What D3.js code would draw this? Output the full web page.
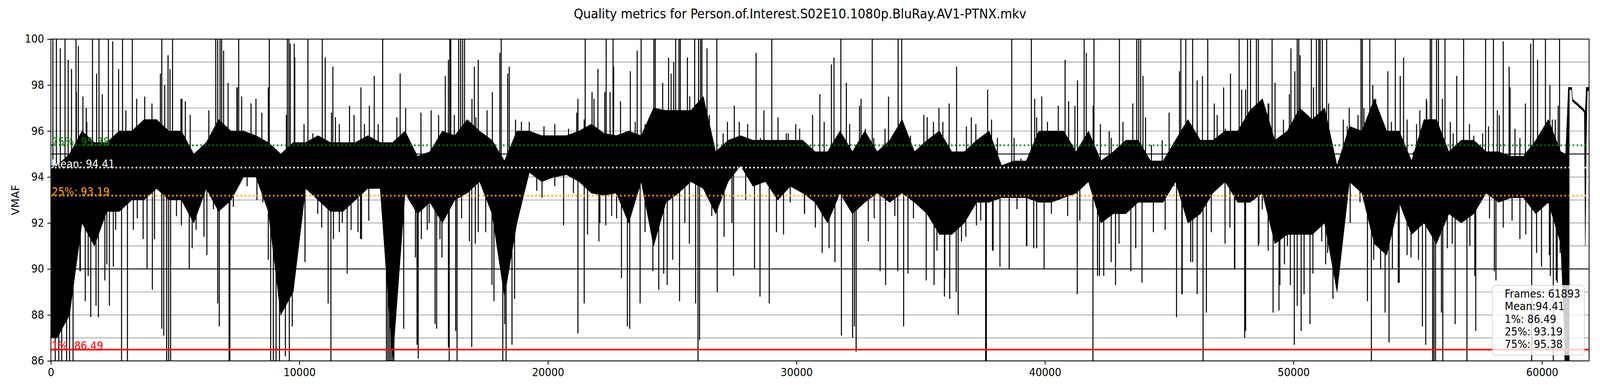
<!DOCTYPE html>
<html><head><meta charset="utf-8">
<script src="https://cdn.jsdelivr.net/npm/d3@7"></script>
<style>html,body{margin:0;padding:0;background:#fff;overflow:hidden;} svg{display:block;font-family:"DejaVu Sans",sans-serif;width:100vw;height:100vh;}</style>
</head><body><div id="chart"></div>
<script>
// ---------------- data ----------------
const chartTitle = "Quality metrics for Person.of.Interest.S02E10.1080p.BluRay.AV1-PTNX.mkv";
const yLabel = "VMAF";
const frameCount = 61893;
const xTicks = [0, 10000, 20000, 30000, 40000, 50000, 60000];
const yTicks = [86, 88, 90, 92, 94, 96, 98, 100];
const minorGrid = [87, 88, 89, 91, 92, 93, 94, 96, 97, 98, 99];
const majorGrid = [90, 95];

const statNames  = ["1%", "25%", "Mean", "75%"];
const statValues = [86.49, 93.19, 94.41, 95.38];
const statColors = ["#ff0000", "#ffa500", "#ffffff", "#008000"];

// dense core of the VMAF trace (per 500-frame bin: upper / lower edge of the solid black region)
const bandFrames = [0,
 250,750,1250,1750,2250,2750,3250,3750,4250,4750,
 5250,5750,6250,6750,7250,7750,8250,8750,9250,9750,
 10250,10750,11250,11750,12250,12750,13250,13750,14250,14750,
 15250,15750,16250,16750,17250,17750,18250,18750,19250,19750,
 20250,20750,21250,21750,22250,22750,23250,23750,24250,24750,
 25250,25750,26250,26750,27250,27750,28250,28750,29250,29750,
 30250,30750,31250,31750,32250,32750,33250,33750,34250,34750,
 35250,35750,36250,36750,37250,37750,38250,38750,39250,39750,
 40250,40750,41250,41750,42250,42750,43250,43750,44250,44750,
 45250,45750,46250,46750,47250,47750,48250,48750,49250,49750,
 50250,50750,51250,51750,52250,52750,53250,53750,54250,54750,
 55250,55750,56250,56750,57250,57750,58250,58750,59250,59750,
 60250,60750,
 60950,61060,61100,61190,61220,61320,61440,61520,61640,61700,61740,61780,61820,61892];
const bandHi = [94.5,
 94.5,95,96,95.5,95.5,96,96,96.5,96.5,96,
 96,95,95.5,96.5,96,96,95.8,95.5,95,95.5,
 95.5,95.8,95.5,95.5,95.5,95.8,95.5,95.5,96,94.9,
 95.1,96,95.8,96.5,96,95.6,94.7,96,96,95.8,
 95.8,95.8,96,96.3,95.9,95.8,96,95.8,97,96.9,
 96.9,96.9,97.5,95.1,95.6,95.8,95.6,95.6,95.6,95.6,
 95.6,95.1,95.1,96,95.1,96,95.1,95.6,96.5,95.1,
 95.6,96,95.1,95.1,95.6,96,94.5,94.7,94.7,96,
 96,96,95.1,96,94.7,95.1,95.6,95.6,94.7,94.7,
 95.6,96.5,95.6,95.6,96,96,96.9,97.4,95.6,96,
 97,96.5,97,94.5,96.2,96,97.4,96,96,94.7,
 96.5,96.5,95.1,95.6,95.6,95.1,95.1,94.9,94.9,95.6,
 96.5,95.1,
 95,97.9,97.9,97.9,97.4,97.3,97.2,97.1,97.0,96.9,96.9,97.9,97.9,97.9];
const bandLo = [87,
 87,88,92,91,92.5,92.5,93,93,93.5,93,
 93,92,93.5,92.5,93,94,94,92.5,88,89,
 93.5,93,92.5,92.5,93,93.5,93.5,86,93.3,92.4,
 92.9,92,93,93.3,93.8,92.4,88.8,92,94.2,93.8,
 94,94.1,93.8,93.3,93.2,93.3,92,93.8,91,92.9,
 93.3,93.8,93.5,92.4,93.8,94.5,93.6,93.8,93,93.6,
 93.3,92.9,92,93.3,92.4,92.9,93.3,92.9,93.3,92.9,
 92.4,91.5,91.5,92,92.9,92.9,93.1,93.1,93.1,92.9,
 92.9,93.1,93.3,93.8,92,92.4,92.4,92.9,92.9,92.9,
 93.8,92,92.4,93.3,93.8,92.9,92.9,93.3,91.1,91.5,
 91.5,91.5,92,89,93.8,93.3,91.1,90.6,92.9,91.5,
 92,91.1,92.4,92,92.4,93.3,92.9,93.1,93.1,92.4,
 92.9,91.1,
 86,86,97.8,97.8,97.3,97.2,97.1,97.0,96.9,96.8,91,95.5,97.8,97.7];

// large excursions of the trace (frame, VMAF)
const spikeFrames = [
 79,221,568,1010,1674,1934,2313,2882,3276,4461,4895,6632,6711,6805,6869,7556,8787,9514,9577,10342,10919,
 695,1105,2487,2724,4713,4792,6948,7129,7500,8748,9632,9790,11037,11345,12016,2069,1421,5274,9474,
 174,316,434,632,750,892,1168,1382,1603,1911,2353,2511,2842,3079,3711,3869,4082,4461,4540,4658,4737,4816,5566,6276,6711,6774,7169,7200,8290,8748,8842,8950,9060,9197,9435,9592,9711,10224,10737,11155,11266,11921,12079,
 13350,16050,16090,16405,16484,16563,16642,18119,21498,22342,22619,23748,24261,24316,
 12474,13011,14053,14890,15869,15995,16232,17037,17195,17763,18063,18442,21206,21774,22011,22500,22643,23314,23590,24616,
 12458,12790,13429,13500,13560,13620,13680,13740,13800,13879,14195,14669,14732,14779,15458,15521,15734,15995,16026,16287,16342,16934,17077,17495,17827,18182,18261,18316,18553,18656,19548,20629,21206,21458,21592,22050,22958,23196,23290,23708,24221,24458,24656,
 25137,25271,25326,25903,26061,26140,26195,26795,29006,31785,33048,34090,34232,
 24853,25058,25611,26400,27498,28374,28690,30940,31405,31508,32006,32598,33703,35124,35732,36142,36442,37035,30648,29969,
 24797,25019,25295,25942,26037,26100,26811,27466,28311,28532,28903,29479,30324,31034,31548,31808,32258,32400,32330,33585,33364,34074,34311,34485,35219,35535,35953,36166,36506,36427,
 38661,39450,41574,41969,42995,43690,43769,43848,45466,45664,45940,46548,47811,48150,48268,48505,48584,49137,
 37690,39584,39869,40808,41306,41661,41937,43532,43942,44993,45411,46335,47187,47463,47913,49256,49003,
 37611,37640,37240,37911,38187,38558,39269,39545,39964,41298,41929,42111,42363,42837,43453,43903,45292,45521,45861,46122,46359,46493,47243,47622,48032,48072,48608,48979,49177,49414,49453,
 50148,50211,50716,50921,51016,51071,51158,51332,52713,52769,53069,54095,55500,55556,55753,55832,56093,56843,57727,58043,59645,60135,60703,
 49895,50053,50266,50503,50803,51411,52240,52595,53187,53795,54293,54427,54948,55343,55990,56566,57079,58200,58437,58674,59329,59543,59819,60316,60530,58714,
 49634,49871,50029,50306,50661,50779,51292,51585,52974,53132,53684,53842,54214,55185,55319,55595,55650,55713,56006,56503,56977,57332,58145,59108,59582,60332,60450,60609,60924,60980,61040,61082];
const spikeValues = [
 100,100,100,100,100,100,100,100,100,100,100,100,100,100,100,100,100,100,100,100,100,
 99.1,99.7,99.9,98.7,99.3,98.7,99.5,98.1,97.9,97.9,99.8,99.8,99.2,98.8,97.1,97.6,97,97.4,96.7,
 86,86,86,86,86,86,89.9,88.6,87.9,87.9,88.4,90.1,86,86,91.3,90,89.1,87.4,87.1,86,86,86,90,90.6,88.5,87.5,86,86,93,90.4,86,86,86,86,86.2,86,87.5,90.3,92.4,88.5,86,89.8,91.7,
 100,100,100,100,100,100,100,100,100,100,100,100,100,100,
 97.9,98.4,98.5,96.8,98.4,99.1,96.7,98.8,99.1,97.7,99.4,98.8,97.4,97.7,98.7,97.7,98.8,98.6,99.5,98.1,
 91.3,92.1,91.4,86,86,86,86,86,86,90.5,87.4,90.5,86.7,86.1,87.6,87.4,90.5,86.6,86,87.3,86,86.6,91.1,91.6,88.6,86,87.6,86,86.7,88.7,93.4,91.9,87.2,88.5,91.5,91.2,89.6,87.5,87.4,88.5,89.9,89.1,89.8,
 100,100,100,100,100,100,100,100,100,100,100,100,100,
 99.2,99,99.2,99.6,97.1,99.4,96.9,97.6,98.9,99.2,98.1,97.4,97.5,96.7,97,97.2,98.8,96.6,96.7,96.3,
 89.3,90.4,88.6,88.5,86,86.9,89,89.7,90,88.8,88.5,91.5,92.4,90.7,90.3,87.1,87,86.4,87.5,89.3,89.9,89.9,87.5,89.8,89.5,89.3,88.8,88.7,88,89,
 100,100,100,100,100,100,100,100,100,100,100,100,100,100,100,100,100,100,
 97.8,97.4,97.5,99.1,98.2,99.4,97.1,97.2,98.4,96.8,98.6,98.4,97.9,98.5,97.8,98.1,97.2,
 86,86,91.9,90.8,90.1,90,91,90.9,90,88.9,86,89.7,89.7,89.3,89.9,89.4,87.9,88.9,90.3,88.9,86,88.1,91.1,90,87,87.3,91.1,90.8,88.1,88.2,89.3,
 100,100,100,100,100,100,100,100,100,100,100,100,100,100,100,100,100,100,100,100,100,100,100,
 99.6,98.6,99.3,96.4,97.9,97.2,97,96.7,98,98.6,98.4,99.2,96.3,97.4,97.4,98.4,96.3,96.9,99.9,98.8,97.2,99.8,99.1,98,96.5,97.9,
 90.2,89.3,86.7,87.3,87.6,89.8,90.2,88.7,88.6,86,88.1,86.8,89.4,87.5,86.7,86,86,86,86,87.6,86,87.3,89.5,91.3,86,89.7,86,89.4,86,86,86,86];

// smaller excursions just outside the dense core [frame, VMAF]
const fringeSpikes = [
 [379,99.6],[829,98.7],[1026,97.7],[1287,97.5],[1445,96.4],[1840,98.5],[3016,96.9],[3450,97.4],[3774,97.5],[4066,97.2],[4405,98.5],[4579,98],[5234,97.4],[5408,97.3],[5605,96.7],[6355,96.9],[7484,97.9],[7674,97.5],[8053,97.2],[8250,97.4],[8487,96.8],[9813,99.2],[10185,96.3],[10540,95.9],[11290,96.8],[11448,96.6],[11606,96.3],[12198,96.7],
 [1184,89.9],[1500,89.7],[1816,88.4],[2171,89.5],[2250,90.2],[2605,91.7],[3316,91.7],[3474,92.2],[4168,91.3],[5053,92.3],[5250,91.9],[5684,90.9],[5842,91.7],[6158,91.4],[6537,92.6],[7342,92.7],[7895,93.6],[8527,92.9],[10895,91.8],[11369,91.3],[11606,91.6],[11724,92],[12356,91.6],
 [12616,96.3],[12813,97.1],[13169,96.3],[13919,96.6],[14274,97],[14511,95.2],[15300,96.9],[15600,96.7],[16942,97.4],[17100,96.6],[17550,96.9],[18379,98.5],[18695,96.5],[18932,96.4],[19248,96.4],[19840,96.2],[20274,96.3],[20827,96.1],[21158,96.8],[21458,96.5],[21853,97.4],[22287,97.7],[22919,97.3],[23511,96.4],[23906,96.3],[24063,96.5],
 [12497,91.3],[12971,93.8],[13169,93.8],[14037,91.5],[14432,93.3],[14906,91.3],[15142,91.7],[15221,92],[15655,91.3],[16524,92.2],[16840,91.2],[17195,91.6],[17747,89.3],[19130,93.9],[19761,93.1],[20274,93.6],[21025,93.3],[22090,92],[22327,91.9],[22563,92.3],[22761,92.2],[23906,91.6],
 [24955,98.5],[25429,96.6],[25705,97.5],[26495,96.7],[27048,95.9],[27221,96.4],[27695,96.4],[28034,96.3],[28548,95.7],[29258,96.6],[29590,95.9],[29669,95.9],[30127,96.1],[31114,96.4],[32140,96.3],[32535,97.1],[32771,96.1],[33111,95.7],[33561,96.1],[34587,95.8],[35259,96.6],[35511,96.4],[35890,96.4],[36837,96.2],
 [25508,92],[25690,91.1],[26590,92.3],[27087,91.4],[27403,92],[27956,93],[29195,91.6],[29748,92.9],[30324,92.4],[30758,91.8],[31311,90.9],[32890,91.2],[33127,92.2],[33956,92.3],[34706,92.2],[35653,90.8],[35969,89.6],[36640,91.2],[36814,91.4],
 [37216,96.3],[37848,96.5],[38084,95.7],[38755,95.7],[39032,94.8],[39663,96.6],[40098,96.4],[40532,97.1],[40950,97.3],[41203,97.1],[42229,96.3],[42584,96],[42663,95.7],[43137,96.4],[44045,96.6],[44282,95.4],[44716,95.6],[45190,95.5],[46122,98.2],[46809,97.2],[46927,96.7],[47258,96.1],[48072,97.8],[48822,96.3],[48979,97.2],
 [37413,92.1],[37887,90.8],[38321,93.1],[38874,92.6],[39253,91],[39663,90.9],[40256,92.4],[40911,92.3],[41401,92.1],[42190,89.7],[42663,90.3],[42979,91.1],[43650,90.9],[44361,91.6],[44835,91.7],[45190,93.6],[45506,88.9],[45940,90.3],[46690,91.6],[47440,91.8],[47637,90],[48584,91],[48742,92.6],
 [49595,96.5],[49832,97.6],[50542,96],[50977,95.2],[51805,94.7],[52003,96.5],[52161,96.2],[52516,95.9],[52832,97],[53306,97.4],[53622,95.6],[53937,96.4],[54569,96.5],[54821,95.1],[55082,96.9],[55359,97.3],[56306,96.4],[56424,95.9],[56661,95.5],[57253,95.8],[57411,94.7],[57609,95.9],[57845,96.2],[58279,96.7],[58911,96.1],[59108,95.7],[60016,95.9],[60411,96.5],[60648,97.1],
 [49753,91],[50148,88.4],[50424,88.9],[51134,91.2],[51371,90.7],[51805,91.8],[52279,92],[52674,92.9],[53227,90.4],[53503,90],[53977,90],[54253,89.4],[54569,90.6],[54727,90.5],[55027,90.4],[55950,88.1],[56187,90.9],[56385,91.1],[57095,91],[57293,89.7],[57885,92.2],[58082,89.9],[58437,91.8],[58793,92.1],[59345,91.5],[59779,90.7],[59977,90.1],[60293,90.6],[60569,89.5],[60727,90.7]];

// ---------------- layout ----------------
const W = 4400, H = 1000;
const plot = {left: 140, right: 4370, top: 100, bottom: 923};
const tickFont = 27.8, titleFont = 33.3;

const svg = d3.select("#chart").append("svg")
  .attr("viewBox", `0 0 ${W} ${H}`).attr("preserveAspectRatio", "none");
svg.append("rect").attr("width", W).attr("height", H).attr("fill", "#fff");

const x = d3.scaleLinear().domain([0, frameCount - 1]).range([plot.left, plot.right]);
const y = d3.scaleLinear().domain([86, 100]).range([plot.bottom, plot.top]);

svg.append("defs").append("clipPath").attr("id", "clip")
  .append("rect").attr("x", plot.left).attr("y", plot.top)
  .attr("width", plot.right - plot.left).attr("height", plot.bottom - plot.top);

// grid
const g = svg.append("g");
g.selectAll("line.minor").data(minorGrid).join("line")
  .attr("x1", plot.left).attr("x2", plot.right)
  .attr("y1", d => y(d)).attr("y2", d => y(d))
  .attr("stroke", "#808080").attr("stroke-width", 1.4);
g.selectAll("line.major").data(majorGrid).join("line")
  .attr("x1", plot.left).attr("x2", plot.right)
  .attr("y1", d => y(d)).attr("y2", d => y(d))
  .attr("stroke", "#000").attr("stroke-width", 2.2);

// trace: dense core + excursions
const data = g.append("g").attr("clip-path", "url(#clip)");
const band = bandFrames.map((f, i) => ({f, hi: bandHi[i], lo: bandLo[i]}));
data.append("path").datum(band)
  .attr("d", d3.area().x(d => x(d.f)).y0(d => y(d.lo)).y1(d => y(d.hi)))
  .attr("fill", "#000").attr("stroke", "#000").attr("stroke-width", 1.2);

const base = statValues[statNames.indexOf("Mean")];
const spikes = spikeFrames.map((f, i) => [f, spikeValues[i]]).concat(fringeSpikes);
data.selectAll("path.spike").data(spikes).join("path")
  .attr("d", d => d3.line()([[x(d[0]), y(base)], [x(d[0]), y(d[1])]]))
  .attr("stroke", "#000").attr("stroke-width", 2.8).attr("fill", "none");

// stat lines
const stats = statNames.map((n, i) => ({n, v: statValues[i], c: statColors[i]}));
data.selectAll("line.stat").data(stats).join("line")
  .attr("x1", plot.left).attr("x2", plot.right)
  .attr("y1", d => y(d.v)).attr("y2", d => y(d.v))
  .attr("stroke", d => d.c).attr("stroke-width", 4.2)
  .attr("stroke-dasharray", d => d.n === "1%" ? null : "4.2,6.9");
g.selectAll("text.stat").data(stats).join("text")
  .attr("x", x(0) + 2).attr("y", d => y(d.v))
  .attr("fill", d => d.c).attr("font-size", tickFont)
  .text(d => `${d.n}: ${d.v.toFixed(2)}`);

// spines
svg.append("rect").attr("x", plot.left).attr("y", plot.top)
  .attr("width", plot.right - plot.left).attr("height", plot.bottom - plot.top)
  .attr("fill", "none").attr("stroke", "#000").attr("stroke-width", 2.2);

// axes
const xAxis = svg.append("g").attr("transform", `translate(0,${plot.bottom})`)
  .call(d3.axisBottom(x).tickValues(xTicks).tickFormat(d3.format("d")).tickSize(9.7).tickPadding(10));
const yAxis = svg.append("g").attr("transform", `translate(${plot.left},0)`)
  .call(d3.axisLeft(y).tickValues(yTicks).tickFormat(d3.format("d")).tickSize(9.7).tickPadding(9));
[xAxis, yAxis].forEach(a => {
  a.select(".domain").remove();
  a.selectAll(".tick line").attr("stroke", "#000").attr("stroke-width", 2.2);
  a.selectAll(".tick text").attr("font-size", tickFont).attr("fill", "#000")
    .attr("font-family", "DejaVu Sans");
});

// title and label
svg.append("text").attr("x", W / 2).attr("y", 47).attr("text-anchor", "middle")
  .attr("font-size", titleFont).text(chartTitle);
svg.append("text").attr("transform", `translate(53,${(plot.top + plot.bottom) / 2}) rotate(-90)`)
  .attr("text-anchor", "middle").attr("font-size", tickFont).text(yLabel);

// stats box
const boxLines = [`Frames: ${frameCount}`, `Mean:${statValues[2].toFixed(2)}`,
  `1%: ${statValues[0].toFixed(2)}`, `25%: ${statValues[1].toFixed(2)}`, `75%: ${statValues[3].toFixed(2)}`];
const bw = 253, bh = 178;
const bx = plot.right - 13 - bw, by = plot.bottom - 15 - bh;
svg.append("rect").attr("x", bx).attr("y", by).attr("width", bw).attr("height", bh)
  .attr("rx", 8).attr("fill", "#fff").attr("fill-opacity", 0.8)
  .attr("stroke", "#cccccc").attr("stroke-opacity", 0.8).attr("stroke-width", 2.2);
svg.selectAll("text.box").data(boxLines).join("text")
  .attr("x", bx + 34).attr("y", (d, i) => by + 31 + i * 32.3)
  .attr("font-size", tickFont).attr("fill", "#000").text(d => d);
</script></body></html>
